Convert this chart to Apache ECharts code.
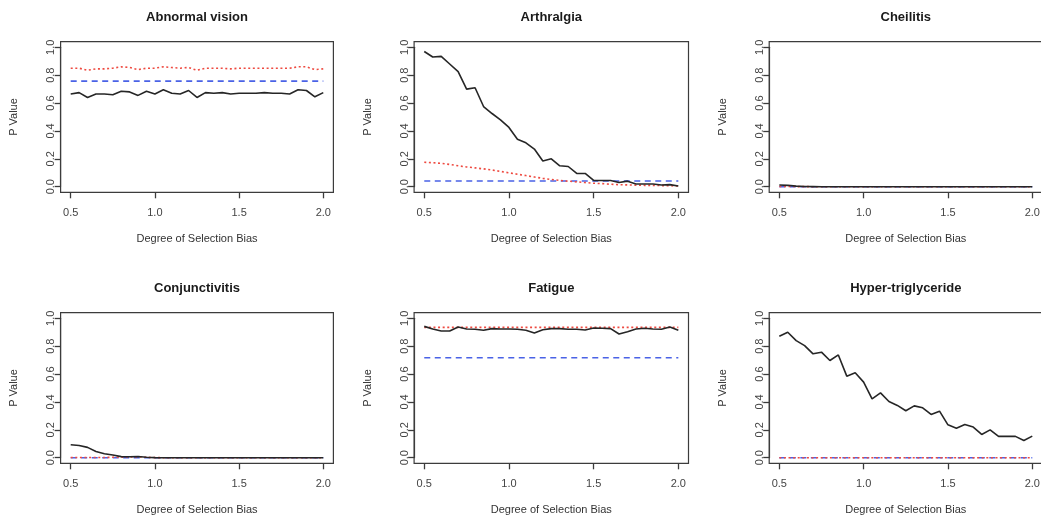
<!DOCTYPE html>
<html>
<head>
<meta charset="utf-8">
<script src="https://cdn.jsdelivr.net/npm/echarts@6/dist/echarts.min.js"></script>
<style>html,body{margin:0;padding:0;background:#fff;}#c{width:1041px;height:519px;}</style>
</head>
<body>
<div id="c"></div>
<script>
const panelTitles = ["Abnormal vision","Arthralgia","Cheilitis","Conjunctivitis","Fatigue","Hyper-triglyceride"];
const xs = [0.50,0.55,0.60,0.65,0.70,0.75,0.80,0.85,0.90,0.95,1.00,1.05,1.10,1.15,1.20,1.25,1.30,1.35,1.40,1.45,1.50,1.55,1.60,1.65,1.70,1.75,1.80,1.85,1.90,1.95,2.00];

const abnBlack = [0.665,0.675,0.64,0.665,0.665,0.66,0.685,0.68,0.655,0.685,0.665,0.695,0.67,0.665,0.69,0.64,0.675,0.67,0.675,0.665,0.67,0.67,0.67,0.675,0.67,0.67,0.665,0.695,0.69,0.645,0.675];
const abnRed = [0.85,0.85,0.835,0.845,0.845,0.85,0.86,0.855,0.84,0.85,0.85,0.86,0.855,0.85,0.855,0.835,0.85,0.85,0.85,0.845,0.85,0.85,0.85,0.85,0.85,0.85,0.85,0.86,0.86,0.84,0.845];
const abnBlue = [0.757,0.757,0.757,0.757,0.757,0.757,0.757,0.757,0.757,0.757,0.757,0.757,0.757,0.757,0.757,0.757,0.757,0.757,0.757,0.757,0.757,0.757,0.757,0.757,0.757,0.757,0.757,0.757,0.757,0.757,0.757];

const artBlack = [0.97,0.93,0.935,0.88,0.825,0.70,0.71,0.575,0.525,0.48,0.425,0.34,0.315,0.27,0.185,0.20,0.15,0.145,0.095,0.095,0.045,0.045,0.045,0.03,0.04,0.02,0.02,0.02,0.012,0.015,0.005];
const artRed = [0.175,0.172,0.168,0.16,0.15,0.142,0.135,0.128,0.12,0.11,0.1,0.09,0.08,0.07,0.06,0.052,0.045,0.04,0.035,0.03,0.025,0.022,0.018,0.015,0.013,0.011,0.01,0.009,0.008,0.007,0.005];
const artBlue = [0.041,0.041,0.041,0.041,0.041,0.041,0.041,0.041,0.041,0.041,0.041,0.041,0.041,0.041,0.041,0.041,0.041,0.041,0.041,0.041,0.041,0.041,0.041,0.041,0.041,0.041,0.041,0.041,0.041,0.041,0.041];

const cheBlack = [0.012,0.01,0.004,0.002,0.001,0,0,0,0,0,0,0,0,0,0,0,0,0,0,0,0,0,0,0,0,0,0,0,0,0,0];
const cheRed = [0.002,0.002,0.001,0.001,0,0,0,0,0,0,0,0,0,0,0,0,0,0,0,0,0,0,0,0,0,0,0,0,0,0,0];
const cheBlue = [0,0,0,0,0,0,0,0,0,0,0,0,0,0,0,0,0,0,0,0,0,0,0,0,0,0,0,0,0,0,0];

const conBlack = [0.093,0.088,0.074,0.045,0.029,0.019,0.008,0.007,0.009,0.003,0.001,0,0,0,0,0,0,0,0,0,0,0,0,0,0,0,0,0,0,0,0];
const conRed = [0.002,0.002,0.002,0.002,0.002,0.003,0.004,0.006,0.006,0.003,0.001,0,0,0,0,0,0,0,0,0,0,0,0,0,0,0,0,0,0,0,0];
const conBlue = [0,0,0,0,0,0,0,0,0,0,0,0,0,0,0,0,0,0,0,0,0,0,0,0,0,0,0,0,0,0,0];

const fatBlack = [0.942,0.923,0.909,0.909,0.938,0.923,0.921,0.914,0.926,0.923,0.923,0.921,0.914,0.894,0.918,0.926,0.926,0.921,0.921,0.916,0.93,0.928,0.926,0.887,0.904,0.923,0.928,0.923,0.921,0.938,0.914];
const fatRed = [0.935,0.935,0.935,0.935,0.935,0.935,0.935,0.935,0.935,0.935,0.935,0.935,0.935,0.935,0.935,0.935,0.935,0.935,0.935,0.935,0.935,0.935,0.935,0.935,0.935,0.935,0.935,0.935,0.935,0.935,0.935];
const fatBlue = [0.717,0.717,0.717,0.717,0.717,0.717,0.717,0.717,0.717,0.717,0.717,0.717,0.717,0.717,0.717,0.717,0.717,0.717,0.717,0.717,0.717,0.717,0.717,0.717,0.717,0.717,0.717,0.717,0.717,0.717,0.717];

const hypBlack = [0.871,0.90,0.84,0.804,0.745,0.757,0.697,0.737,0.585,0.609,0.542,0.422,0.465,0.403,0.375,0.337,0.372,0.358,0.31,0.334,0.236,0.212,0.239,0.22,0.167,0.2,0.153,0.153,0.153,0.124,0.155];
const hypRed = [0,0,0,0,0,0,0,0,0,0,0,0,0,0,0,0,0,0,0,0,0,0,0,0,0,0,0,0,0,0,0];
const hypBlue = [0,0,0,0,0,0,0,0,0,0,0,0,0,0,0,0,0,0,0,0,0,0,0,0,0,0,0,0,0,0,0];

const blackSeries = [abnBlack, artBlack, cheBlack, conBlack, fatBlack, hypBlack];
const redSeries = [abnRed, artRed, cheRed, conRed, fatRed, hypRed];
const blueSeries = [abnBlue, artBlue, cheBlue, conBlue, fatBlue, hypBlue];

// axis ranges (R style: 4% padding around data range)
const X_MIN = 0.5, X_MAX = 2.0, X_STEP = 0.5;
const Y_MIN = 0.0, Y_MAX = 1.0, Y_STEP = 0.2;
const PAD = 0.04;

const FONT = '"Liberation Sans", Arial, Helvetica, sans-serif';
const colLeft = [60.6, 414.1, 769.2];
const colWidth = [272.8, 274.4, 273.2];
const rowTop = [41.7, 312.7];
const rowHeight = 150.6;
const titleTop = [11, 281.5];
const AX = '#3c3c3c';

const grids = [], xAxes = [], yAxes = [], titles = [], series = [];
const xFrac = PAD / (1 + 2 * PAD);
const yFrac = PAD / (1 + 2 * PAD);

for (let p = 0; p < 6; p++) {
  const c = p % 3, r = Math.floor(p / 3);
  const xr = X_MAX - X_MIN, yr = Y_MAX - Y_MIN;
  // main plotting box
  grids.push({
    left: colLeft[c], top: rowTop[r], width: colWidth[c], height: rowHeight,
    show: true, borderColor: AX, borderWidth: 1.2, backgroundColor: 'transparent',
    containLabel: false, outerBoundsMode: 'none'
  });
  titles.push({
    text: panelTitles[p], left: colLeft[c] + colWidth[c] / 2, top: titleTop[r],
    textAlign: 'center', padding: 0,
    textStyle: { fontFamily: FONT, fontSize: 13, fontWeight: 'bold', color: '#1a1a1a' }
  });
  xAxes.push({
    type: 'value', gridIndex: p, min: X_MIN - PAD * xr, max: X_MAX + PAD * xr, show: false,
    axisLine: { onZero: false }, splitLine: { show: false }
  });
  yAxes.push({
    type: 'value', gridIndex: p, min: Y_MIN - PAD * yr, max: Y_MAX + PAD * yr, show: false,
    axisLine: { onZero: false }, splitLine: { show: false }
  });
  const mk = (vals) => xs.map((x, i) => [x, vals[i]]);
  series.push({
    type: 'line', xAxisIndex: p, yAxisIndex: p, data: mk(blueSeries[p]), showSymbol: false, silent: true,
    lineStyle: { color: '#4a62e6', width: 1.6, type: [6, 4.5] }, animation: false
  });
  series.push({
    type: 'line', xAxisIndex: p, yAxisIndex: p, data: mk(redSeries[p]), showSymbol: false, silent: true,
    lineStyle: { color: '#ee4a40', width: 1.6, type: [2, 2.6] }, animation: false
  });
  series.push({
    type: 'line', xAxisIndex: p, yAxisIndex: p, data: mk(blackSeries[p]), showSymbol: false, silent: true,
    lineStyle: { color: '#262626', width: 1.6, type: 'solid' }, animation: false
  });
}

// axis grids spanning exactly first..last tick, offset onto the box edges (R style axes)
for (let p = 0; p < 6; p++) {
  const c = p % 3, r = Math.floor(p / 3);
  const w = colWidth[c], h = rowHeight;
  const offX = xFrac * w, offY = yFrac * h;
  grids.push({
    left: colLeft[c] + offX, top: rowTop[r] + offY, width: w - 2 * offX, height: h - 2 * offY,
    show: false, containLabel: false, outerBoundsMode: 'none'
  });
  xAxes.push({
    type: 'value', gridIndex: 6 + p, min: X_MIN, max: X_MAX, interval: X_STEP, position: 'bottom', offset: offY,
    name: 'Degree of Selection Bias', nameLocation: 'middle', nameGap: 41.5,
    nameTextStyle: { fontFamily: FONT, fontSize: 11, color: '#333' },
    axisLine: { show: true, onZero: false, lineStyle: { color: AX, width: 1.2 } },
    axisTick: { show: true, inside: false, length: 6, lineStyle: { color: AX, width: 1.3 } },
    axisLabel: { show: true, margin: 15, fontFamily: FONT, fontSize: 11, color: '#444',
      showMinLabel: true, showMaxLabel: true, hideOverlap: false, formatter: v => v.toFixed(1) },
    splitLine: { show: false }
  });
  yAxes.push({
    type: 'value', gridIndex: 6 + p, min: Y_MIN, max: Y_MAX, interval: Y_STEP, position: 'left', offset: offX,
    name: 'P Value', nameLocation: 'middle', nameGap: 41,
    nameTextStyle: { fontFamily: FONT, fontSize: 11, color: '#333' },
    axisLine: { show: true, onZero: false, lineStyle: { color: AX, width: 1.2 } },
    axisTick: { show: true, inside: false, length: 6, lineStyle: { color: AX, width: 1.3 } },
    axisLabel: { show: true, margin: 4, rotate: 90, fontFamily: FONT, fontSize: 11, color: '#444',
      showMinLabel: true, showMaxLabel: true, hideOverlap: false, formatter: v => v.toFixed(1) },
    splitLine: { show: false }
  });
}

const chart = echarts.init(document.getElementById('c'), null, { renderer: 'canvas' });
chart.setOption({
  animation: false,
  backgroundColor: '#fff',
  title: titles,
  grid: grids,
  xAxis: xAxes,
  yAxis: yAxes,
  series: series
});
</script>
</body>
</html>
